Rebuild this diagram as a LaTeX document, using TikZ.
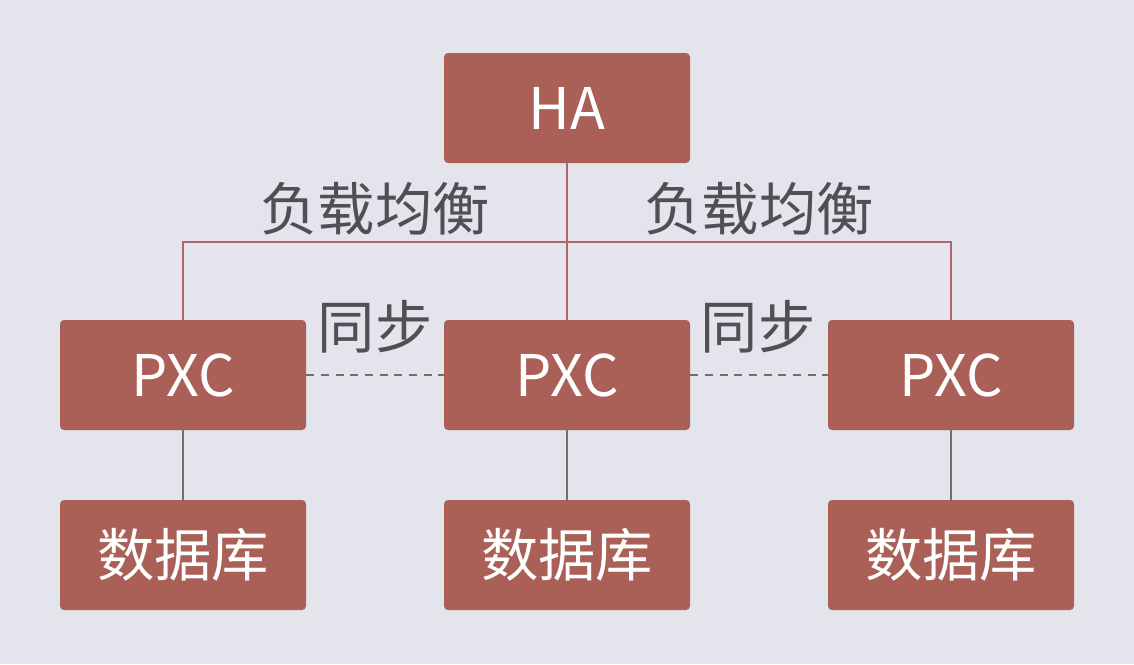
\documentclass[tikz,border=0pt]{standalone}
\usepackage{fontspec}
\setmainfont{Noto Sans CJK SC}
\definecolor{bg}{HTML}{E3E4EC}
\definecolor{boxc}{HTML}{AA5F57}
\definecolor{busc}{HTML}{B0666A}
\definecolor{linec}{HTML}{707070}
\definecolor{txt}{HTML}{4F4F55}
\begin{document}
\begin{tikzpicture}[x=0.75pt,y=-0.75pt,
  blk/.style={draw=none,fill=boxc,rounded corners=3pt,minimum width=184.5pt,minimum height=82.5pt,text=white,font=\fontsize{43}{47}\selectfont,inner sep=0pt},
  lbl/.style={text=txt,font=\fontsize{43}{47}\selectfont,inner sep=0pt},
  bus/.style={draw=busc,line width=1.2pt},
  vline/.style={draw=linec,line width=1.2pt},
  sync/.style={draw=linec,line width=1.2pt,dash pattern=on 6pt off 5pt}]
\fill[bg] (0,0) rectangle (1134,664);
\useasboundingbox (0,0) rectangle (1134,664);
\node[blk] (ha) at (567,108) {HA};
\node[blk] (p1) at (183,375) {PXC};
\node[blk] (p2) at (567,375) {PXC};
\node[blk] (p3) at (951,375) {PXC};
\node[blk] (d1) at (183,555) {数据库};
\node[blk] (d2) at (567,555) {数据库};
\node[blk] (d3) at (951,555) {数据库};
\coordinate (bl) at (183,242);
\coordinate (br) at (951,242);
\draw[bus] (ha.south) -- (p2.north);
\draw[bus] (p1.north) -- (bl) -- (br) -- (p3.north);
\draw[vline] (p1.south) -- (d1.north);
\draw[vline] (p2.south) -- (d2.north);
\draw[vline] (p3.south) -- (d3.north);
\draw[sync] (p1.east) -- (p2.west);
\draw[sync] (p2.east) -- (p3.west);
\node[lbl] (l1) at (375,209) {负载均衡};
\node[lbl] (l2) at (759,209) {负载均衡};
\node[lbl] (s1) at (375,327) {同步};
\node[lbl] (s2) at (758,327) {同步};
\end{tikzpicture}
\end{document}
